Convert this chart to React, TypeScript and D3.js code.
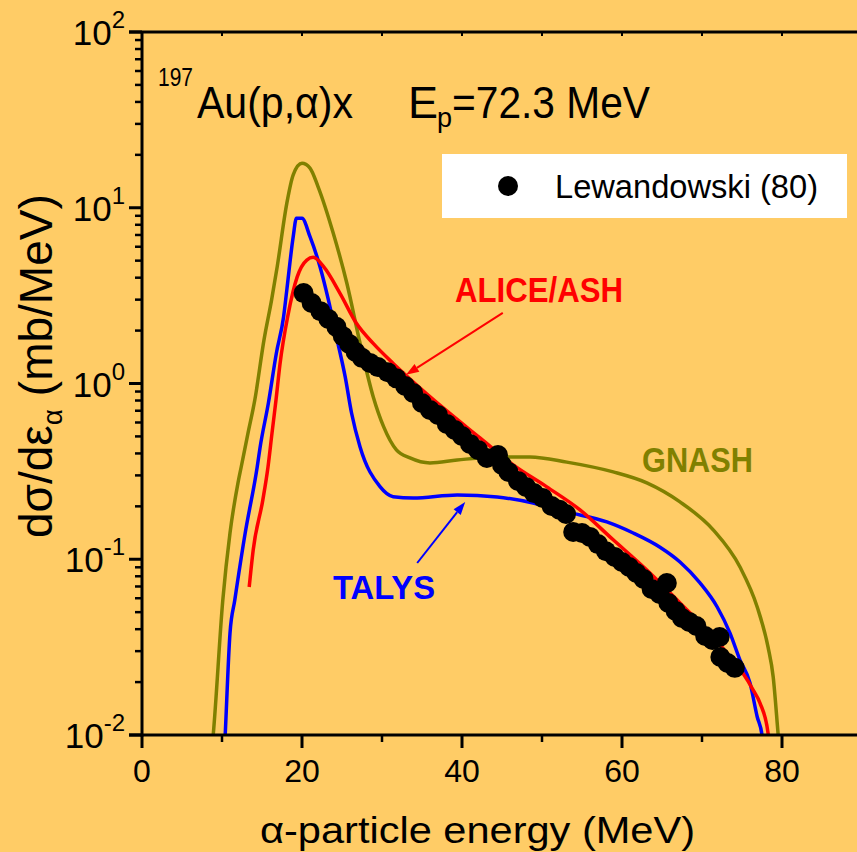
import * as d3 from "d3";

const W = 857;
const H = 852;
const BG = "#FFCC66";
const FONT = "Liberation Sans, Arial, Helvetica, sans-serif";

// experimental points, Lewandowski (80)
const expEnergy = [
  20.2, 21.2, 22.3, 23.3, 24.3, 25.1, 25.9, 26.7, 27.5, 28.5, 29.5, 30.7, 31.8, 32.9, 33.9, 35.0,
  36.0, 37.0, 38.1, 39.1, 40.0, 41.0, 42.0, 43.1, 44.5, 45.0, 45.8, 47.0, 48.0, 49.0, 50.1, 51.2,
  52.2, 53.0, 53.9, 55.0, 56.0, 57.0, 58.0, 59.1, 60.0, 60.9, 61.8, 62.7, 63.7, 64.7, 65.6, 65.8,
  66.7, 67.5, 68.4, 69.3, 70.4, 71.3, 72.2, 72.3, 73.2, 74.1,
];
const expValue = [
  3.27, 2.87, 2.58, 2.33, 2.1, 1.86, 1.68, 1.51, 1.4, 1.31, 1.24, 1.16, 1.07, 0.968, 0.883, 0.774,
  0.707, 0.662, 0.589, 0.544, 0.503, 0.453, 0.419, 0.377, 0.392, 0.344, 0.314, 0.279, 0.258, 0.238, 0.223, 0.201,
  0.191, 0.181, 0.143, 0.141, 0.134, 0.122, 0.111, 0.103, 0.0964, 0.0903, 0.0835, 0.0772, 0.0677, 0.0634, 0.0733, 0.0564,
  0.0508, 0.0463, 0.044, 0.0417, 0.0366, 0.0347, 0.0361, 0.0278, 0.0257, 0.0241,
];

// GNASH
const gnashEnergy = [
  8.7, 8.9, 10.1, 11.0, 12.0, 12.4, 13.25, 14.1, 15.25, 16.2, 16.9, 18.1, 18.9, 20.0, 21.0, 22.0,
  23.9, 25.6, 27.25, 28.9, 30.2, 31.8, 33.5, 36.0, 39.4, 44.4, 48.5, 53.1, 58.9, 63.1, 67.25, 71.4,
  74.75, 76.9, 78.25, 78.9, 79.5, 79.7,
];
const gnashValue = [
  0.008, 0.01, 0.0586, 0.141, 0.272, 0.335, 0.522, 0.805, 1.77, 2.99, 4.62, 10.6, 15.4, 17.9, 16.8, 13.2,
  7.18, 3.73, 1.7, 0.841, 0.568, 0.419, 0.377, 0.353, 0.367, 0.382, 0.382, 0.357, 0.314, 0.272, 0.212, 0.147,
  0.0903, 0.0535, 0.0317, 0.0214, 0.0103, 0.008,
];

// TALYS
const talysEnergy = [
  10.3, 10.4, 11.0, 11.6, 12.9, 14.4, 14.75, 15.8, 16.8, 17.7, 18.1, 18.9, 19.3, 20.0, 21.0, 22.25,
  23.3, 24.3, 25.4, 26.2, 27.25, 29.75, 31.4, 33.9, 39.4, 44.4, 48.9, 53.1, 58.1, 61.4, 64.75, 67.25,
  69.75, 71.9, 73.5, 74.75, 76.0, 76.9, 77.5, 77.6,
];
const talysValue = [
  0.008, 0.01, 0.038, 0.0586, 0.141, 0.335, 0.43, 0.774, 1.49, 2.4, 3.4, 6.84, 8.71, 8.71, 6.84, 4.62,
  2.99, 1.85, 1.09, 0.677, 0.437, 0.259, 0.227, 0.223, 0.232, 0.226, 0.209, 0.186, 0.163, 0.141, 0.117, 0.0964,
  0.0733, 0.0535, 0.038, 0.0267, 0.0198, 0.0127, 0.01, 0.008,
];

// ALICE/ASH
const aliceEnergy = [
  13.4, 13.9, 15.1, 15.75, 16.25, 16.75, 17.25, 18.25, 19.4, 20.6, 21.4, 22.7, 24.75, 26.8, 28.9, 31.4,
  33.6, 38.1, 42.25, 46.4, 50.6, 54.75, 58.9, 63.1, 67.25, 71.4, 73.5, 75.1, 76.4, 77.25, 78.25, 78.4,
];
const aliceValue = [
  0.0695, 0.113, 0.217, 0.335, 0.522, 0.805, 1.29, 2.45, 4.04, 5.04, 5.22, 4.62, 3.26, 2.2, 1.69, 1.3,
  1.05, 0.698, 0.49, 0.344, 0.258, 0.191, 0.129, 0.0869, 0.0564, 0.0361, 0.0278, 0.0225, 0.018, 0.0152, 0.0103, 0.009,
];

const xMajor = [0, 20, 40, 60, 80];
const xMinor = [10, 30, 50, 70];
const yExponents = [-2, -1, 0, 1, 2];

const x = d3.scaleLinear().domain([0, 80]).range([142, 782]);
const y = d3.scaleLog().domain([0.01, 100]).range([735, 32]);

const yMinor: number[] = [];
for (let e = -2; e < 2; e++) {
  for (let k = 2; k <= 9; k++) yMinor.push(k * Math.pow(10, e));
}

const line = d3
  .line<[number, number]>()
  .x((d) => x(d[0]))
  .y((d) => y(d[1]))
  .curve(d3.curveMonotoneX);

const toPairs = (xs: number[], vs: number[]) => xs.map((e, i) => [e, vs[i]] as [number, number]);

const Arrow = ({ from, to, color }: { from: [number, number]; to: [number, number]; color: string }) => {
  const x1 = x(from[0]);
  const y1 = y(from[1]);
  const x2 = x(to[0]);
  const y2 = y(to[1]);
  const a = Math.atan2(y2 - y1, x2 - x1);
  const len = 13;
  const hw = 4.5;
  const bx = x2 - len * Math.cos(a);
  const by = y2 - len * Math.sin(a);
  const p = [
    [x2, y2],
    [bx + hw * Math.sin(a), by - hw * Math.cos(a)],
    [bx - hw * Math.sin(a), by + hw * Math.cos(a)],
  ];
  return (
    <g>
      <line x1={x1} y1={y1} x2={bx} y2={by} stroke={color} strokeWidth={2} />
      <polygon points={p.map((q) => q.join(",")).join(" ")} fill={color} />
    </g>
  );
};

export default function App() {
  const curves = [
    { data: toPairs(gnashEnergy, gnashValue), color: "#808000" },
    { data: toPairs(talysEnergy, talysValue), color: "#0000FF" },
    { data: toPairs(aliceEnergy, aliceValue), color: "#FF0000" },
  ];
  const dots = toPairs(expEnergy, expValue);

  return (
    <svg width={W} height={H} style={{ position: "absolute", left: 0, top: 0 }}>
      <rect width={W} height={H} fill={BG} />
      <defs>
        <clipPath id="plot">
          <rect x={142} y={32} width={W - 142} height={735 - 32} />
        </clipPath>
      </defs>

      <g fontFamily={FONT}>
        {/* title */}
        <text x={158} y={86} fontSize={25} textLength={35} lengthAdjust="spacingAndGlyphs">197</text>
        <text x={197} y={118} fontSize={45} textLength={156} lengthAdjust="spacingAndGlyphs">
          Au(p,α)x
        </text>
        <text x={408} y={118} fontSize={45}>E</text>
        <text x={437} y={127} fontSize={27}>p</text>
        <text x={452} y={118} fontSize={44} textLength={198} lengthAdjust="spacingAndGlyphs">
          =72.3 MeV
        </text>

        {/* legend */}
        <rect x={442} y={154} width={405} height={64} fill="#ffffff" />
        <circle cx={508} cy={186} r={10} fill="#000" />
        <text x={555} y={198} fontSize={33} textLength={263} lengthAdjust="spacingAndGlyphs">
          Lewandowski (80)
        </text>

        {/* model curves and data */}
        <g clipPath="url(#plot)">
          {curves.map((c, i) => (
            <path key={i} d={line(c.data) || ""} fill="none" stroke={c.color} strokeWidth={3.5} strokeLinejoin="round" />
          ))}
          {dots.map((d, i) => (
            <circle key={i} cx={x(d[0])} cy={y(d[1])} r={10} fill="#000" />
          ))}
        </g>

        {/* annotations */}
        <text x={455} y={302} fontSize={35} fontWeight="bold" fill="#FF0000" textLength={168} lengthAdjust="spacingAndGlyphs">
          ALICE/ASH
        </text>
        <Arrow from={[45.1, 2.52]} to={[33.0, 1.12]} color="#FF0000" />
        <text x={333} y={599} fontSize={34} fontWeight="bold" fill="#0000FF" textLength={102} lengthAdjust="spacingAndGlyphs">
          TALYS
        </text>
        <Arrow from={[34.4, 0.0952]} to={[40.4, 0.212]} color="#0000FF" />
        <text x={642} y={472} fontSize={35} fontWeight="bold" fill="#808000" textLength={111} lengthAdjust="spacingAndGlyphs">
          GNASH
        </text>

        {/* axes */}
        <g stroke="#000" strokeWidth={3}>
          <line x1={142} y1={31} x2={142} y2={736.5} />
          <line x1={129} y1={735} x2={W} y2={735} />
          <line x1={129} y1={32} x2={W} y2={32} />
          {xMajor.map((t) => (
            <line key={"xM" + t} x1={x(t)} x2={x(t)} y1={735} y2={748} />
          ))}
          {xMinor.map((t) => (
            <line key={"xm" + t} x1={x(t)} x2={x(t)} y1={735} y2={742} strokeWidth={2.5} />
          ))}
          {xMinor.concat(xMajor.slice(1)).map((t) => (
            <line key={"xt" + t} x1={x(t)} x2={x(t)} y1={32} y2={36} strokeWidth={2} />
          ))}
          {yExponents.map((e) => (
            <line key={"yM" + e} x1={129} x2={142} y1={y(Math.pow(10, e))} y2={y(Math.pow(10, e))} />
          ))}
          {yMinor.map((v, i) => (
            <line key={"ym" + i} x1={135} x2={142} y1={y(v)} y2={y(v)} strokeWidth={2.5} />
          ))}
        </g>

        {/* tick labels */}
        {xMajor.map((t) => (
          <text key={"xl" + t} x={x(t)} y={782} fontSize={32} textAnchor="middle">
            {t}
          </text>
        ))}
        {yExponents.map((e) => (
          <text key={"yl" + e} x={125} y={y(Math.pow(10, e)) + 13} fontSize={35} textAnchor="end">
            10
            <tspan dy={-17} fontSize={24}>
              {e}
            </tspan>
          </text>
        ))}

        {/* axis titles */}
        <text x={260} y={843} fontSize={36} textLength={435} lengthAdjust="spacingAndGlyphs">
          α-particle energy (MeV)
        </text>
        <text transform="translate(52,538) rotate(-90)" fontSize={46}>
          dσ/dε
          <tspan dy={10} fontSize={28}>α</tspan>
          <tspan dy={-10}>  (mb/MeV)</tspan>
        </text>
      </g>
    </svg>
  );
}
